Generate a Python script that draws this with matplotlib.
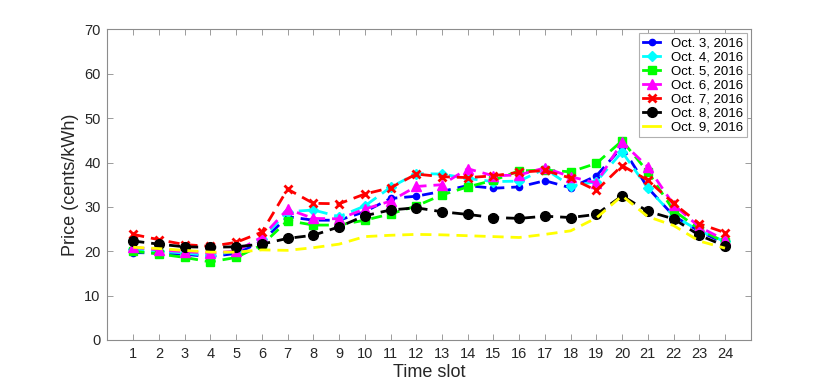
import matplotlib
matplotlib.use("Agg")
import matplotlib.pyplot as plt

plt.rcParams['font.family'] = ['Liberation Sans', 'DejaVu Sans']

slots = list(range(1, 25))
labels = ["Oct. 3, 2016", "Oct. 4, 2016", "Oct. 5, 2016", "Oct. 6, 2016",
          "Oct. 7, 2016", "Oct. 8, 2016", "Oct. 9, 2016"]

oct3 = [19.7, 19.6, 19.3, 18.8, 19.5, 22.2, 27.8, 27.0, 27.0, 28.9, 31.9, 32.4,
        33.5, 34.8, 34.2, 34.5, 35.9, 34.3, 37.0, 43.5, 34.3, 28.0, 24.5, 21.8]
oct4 = [20.4, 20.0, 19.6, 19.0, 20.1, 22.8, 28.9, 29.3, 27.8, 30.2, 34.4, 37.5,
        37.4, 36.4, 35.7, 35.8, 38.6, 34.7, 35.7, 42.4, 34.2, 28.0, 24.6, 22.2]
oct5 = [20.0, 19.4, 18.6, 17.6, 18.6, 21.4, 26.9, 25.9, 25.9, 27.0, 28.4, 30.2,
        32.7, 34.5, 36.0, 38.1, 38.3, 37.9, 39.8, 44.9, 37.9, 29.2, 25.0, 22.0]
oct6 = [20.9, 20.3, 19.9, 19.6, 20.0, 23.2, 29.5, 27.4, 27.3, 29.5, 31.3, 34.6,
        35.0, 38.6, 37.0, 37.2, 38.8, 36.8, 35.4, 44.6, 39.0, 30.5, 25.5, 22.5]
oct7 = [23.8, 22.6, 21.5, 21.1, 22.0, 24.3, 34.0, 30.8, 30.7, 32.9, 34.3, 37.4,
        36.8, 36.6, 37.0, 37.8, 38.2, 36.5, 33.7, 39.3, 36.0, 30.8, 26.2, 24.2]
oct8 = [22.3, 21.6, 21.0, 20.9, 21.0, 21.6, 22.9, 23.6, 25.5, 28.0, 29.3, 29.8,
        28.9, 28.3, 27.6, 27.4, 27.9, 27.6, 28.3, 32.5, 29.0, 27.3, 23.6, 21.2]
oct9 = [20.9, 20.6, 20.2, 19.8, 19.8, 20.3, 20.2, 20.8, 21.6, 23.3, 23.6, 23.8,
        23.7, 23.5, 23.3, 23.1, 23.8, 24.6, 27.5, 32.5, 27.8, 25.8, 22.3, 20.7]

series = [oct3, oct4, oct5, oct6, oct7, oct8, oct9]
colors = ['#0000ff', '#00ffff', '#00ff00', '#ff00ff', '#ff0000', '#000000', '#ffff00']
markers = ['o', 'D', 's', '^', 'x', 'o', None]
msizes = [4.5, 5.5, 5.5, 7, 5.5, 7, 0]

fig = plt.figure(figsize=(8.3, 3.82), dpi=100)
ax = fig.add_axes([0.1295, 0.11, 0.775, 0.813])

for ys, c, m, ms, lab in zip(series, colors, markers, msizes, labels):
    kw = dict(color=c, linestyle='--', linewidth=2, label=lab, dashes=(4, 2.5))
    if m is not None:
        kw.update(marker=m, markersize=ms, markerfacecolor=c, markeredgecolor=c,
                  markeredgewidth=2 if m == 'x' else 1)
    ax.plot(slots, ys, **kw)

ax.set_xlim(0, 25)
ax.set_ylim(0, 70)
ax.set_xticks(slots)
ax.set_yticks(range(0, 71, 10))
axc = '#8c8c8c'
for s in ax.spines.values():
    s.set_color(axc)
    s.set_linewidth(0.8)
ax.tick_params(direction='in', length=4, width=0.6, color=axc, labelsize=10.5,
               labelcolor='#262626', top=True, right=True, pad=5)
ax.set_xlabel('Time slot', fontsize=13, color='#262626', labelpad=2)
ax.set_ylabel('Price (cents/kWh)', fontsize=13, color='#262626', labelpad=4)

leg = ax.legend(loc='upper right', fontsize=9.5, handlelength=1.3, numpoints=1,
                fancybox=False, framealpha=1, edgecolor='#b0b0b0',
                borderaxespad=0.3, labelspacing=0.13, handletextpad=0.8,
                borderpad=0.3)
leg.get_frame().set_linewidth(0.8)
for h in leg.get_lines():
    h.set_linestyle('-')

fig.savefig('out.png', dpi=100)
